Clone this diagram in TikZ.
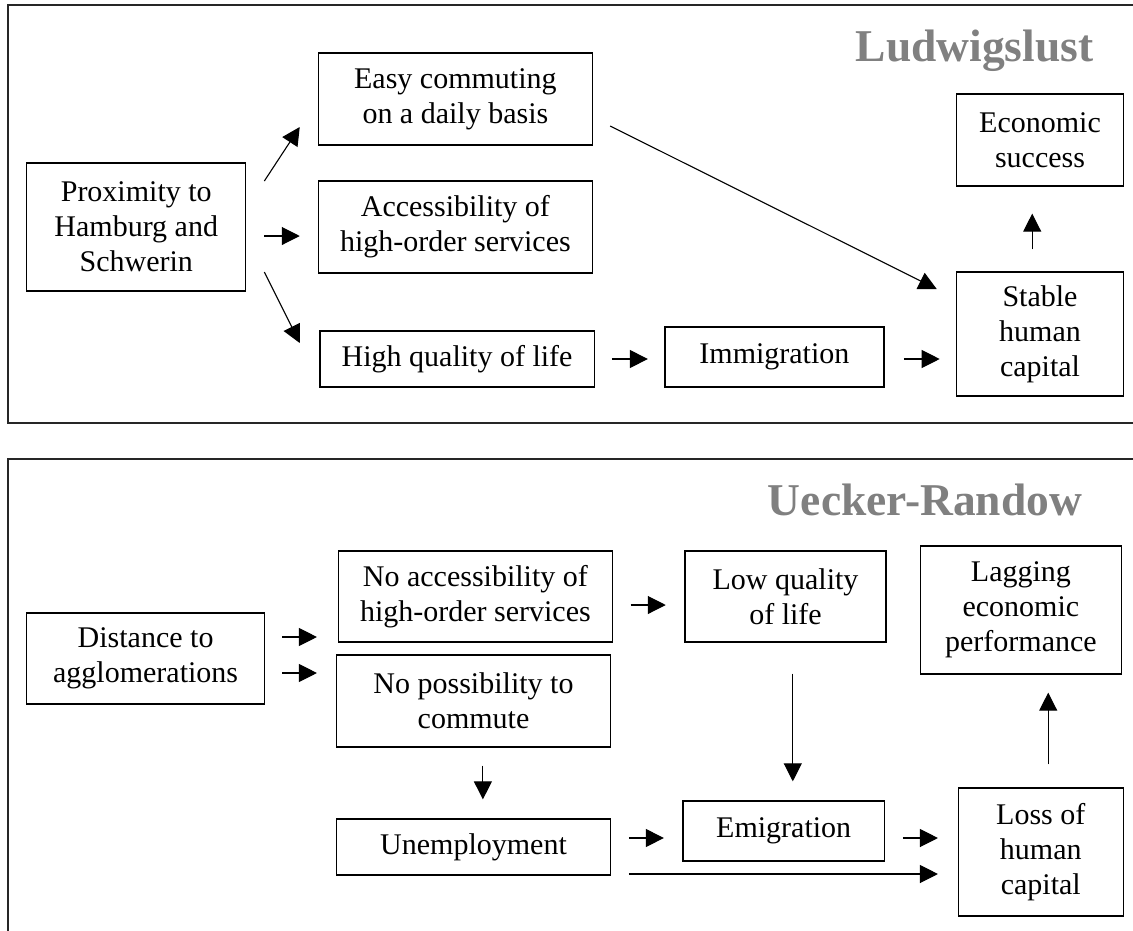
\documentclass[tikz,border=0pt]{standalone}
\usepackage{fontspec}
\setmainfont{Liberation Serif}
\usetikzlibrary{arrows.meta,calc}
\definecolor{titlegray}{RGB}{128,128,128}
\tikzset{
  box/.style={draw=black, line width=1.3pt, inner sep=0pt, align=center,
    font=\fontsize{30}{35}\selectfont},
  arr/.style={line width=1.1pt, -{Triangle[length=18pt,width=18pt]}},
  frame/.style={draw=black!85, line width=1.6pt},
  ttl/.style={anchor=base east, text=titlegray, inner sep=0pt,
    font=\fontsize{45.5}{50}\selectfont\bfseries}
}
\begin{document}
\begin{tikzpicture}[x=1pt,y=-1pt]
\useasboundingbox (0,0) rectangle (1133,930);
\clip (0,0) rectangle (1133,930);
% frames
\draw[frame] (1140,5) -- (8,5) -- (8,423) -- (1140,423);
\draw[frame] (1140,459) -- (8,459) -- (8,940);
% titles
\node[ttl] (t1) at (1093.6,61) {Ludwigslust};
\node[ttl] (t2) at (1082.4,515) {Uecker-Randow};
% top panel
\node[box, minimum width=218.9, minimum height=128] (prox) at (136.25,227) {Proximity to\\Hamburg and\\Schwerin};
\node[box, minimum width=274, minimum height=92] (easy) at (455.4,99) {Easy commuting\\on a daily basis};
\node[box, minimum width=274, minimum height=92] (acc) at (455.4,227) {Accessibility of\\high-order services};
\node[box, minimum width=274.4, minimum height=56] (hql) at (457.1,359) {High quality of life};
\node[box, minimum width=219, minimum height=60] (imm) at (774.4,357) {Immigration};
\node[box, minimum width=166.5, minimum height=124] (stable) at (1040,334) {Stable\\human\\capital};
\node[box, minimum width=166.5, minimum height=92] (econ) at (1040,140) {Economic\\success};
\draw[arr] ($(prox.east)+(18,-46)$) -- ($(easy.west)+(-18,28)$);
\draw[arr] ($(prox.east)+(18,9)$) -- ($(acc.west)+(-18,9)$);
\draw[arr] ($(prox.east)+(18,45)$) -- ($(hql.west)+(-19.5,-16)$);
\draw[arr] ($(easy.east)+(17.1,27)$) -- ($(stable.west)+(-19.4,-45)$);
\draw[arr] ($(hql.east)+(17,0)$) -- ($(imm.west)+(-16.4,2)$);
\draw[arr] ($(imm.east)+(19.3,2)$) -- ($(stable.west)+(-16.4,25)$);
\draw[arr] ($(stable.north)+(-7.8,-22)$) -- ($(econ.south)+(-7.8,27)$);
% bottom panel
\node[box, minimum width=237.6, minimum height=91] (dist) at (145.6,658.5) {Distance to\\agglomerations};
\node[box, minimum width=274.2, minimum height=91] (noacc) at (475.4,596.5) {No accessibility of\\high-order services};
\node[box, minimum width=274.2, minimum height=92] (noposs) at (473.5,701) {No possibility to\\commute};
\node[box, minimum width=274.2, minimum height=56] (unemp) at (473.5,847) {Unemployment};
\node[box, minimum width=201, minimum height=91] (lowq) at (785.5,596.5) {Low quality\\of life};
\node[box, minimum width=201.2, minimum height=128] (lag) at (1020.9,610) {Lagging\\economic\\performance};
\node[box, minimum width=201.2, minimum height=60] (emig) at (783.7,831) {Emigration};
\node[box, minimum width=165, minimum height=128] (loss) at (1040.8,852) {Loss of\\human\\capital};
\draw[arr] ($(dist.east)+(17.2,-21.5)$) -- ($(noacc.west)+(-20.7,40.5)$);
\draw[arr] ($(dist.east)+(17.2,14.5)$) -- ($(noposs.west)+(-18.8,-28)$);
\draw[arr] ($(noposs.south)+(9.4,18)$) -- ($(unemp.north)+(9.4,-19)$);
\draw[arr] ($(noacc.east)+(17.4,8.5)$) -- ($(lowq.west)+(-18.6,8.5)$);
\draw[arr] ($(lowq.south)+(7.3,31)$) -- ($(emig.north)+(9.1,-19)$);
\draw[arr] ($(unemp.east)+(17.5,-9)$) -- ($(emig.west)+(-18.6,7)$);
\draw[arr] ($(emig.east)+(17.8,7)$) -- ($(loss.west)+(-19.7,-14)$);
\draw[arr] ($(unemp.east)+(17.5,27)$) -- ($(loss.west)+(-19.7,22)$);
\draw[arr] ($(loss.north)+(7.4,-23)$) -- ($(lag.south)+(27.3,18)$);
\end{tikzpicture}
\end{document}
